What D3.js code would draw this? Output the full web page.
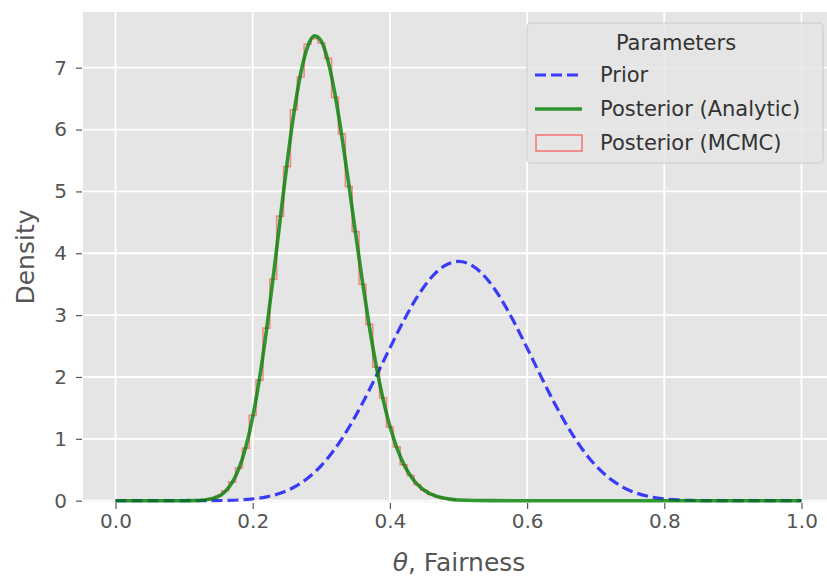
<!DOCTYPE html>
<html>
<head>
<meta charset="utf-8">
<script src="https://cdn.jsdelivr.net/npm/d3@7"></script>
<style>
  html, body { margin: 0; padding: 0; background: #ffffff; }
  svg { display: block; }
  text { font-family: "DejaVu Sans", sans-serif; }
</style>
</head>
<body>
<svg id="chart" width="827" height="578"></svg>
<script>
// Prior density, sampled on theta = 0.00, 0.02, ..., 1.00
const priorTheta = [0.00,0.02,0.04,0.06,0.08,0.10,0.12,0.14,0.16,0.18,0.20,0.22,0.24,0.26,0.28,0.30,0.32,0.34,0.36,0.38,0.40,0.42,0.44,0.46,0.48,0.50,0.52,0.54,0.56,0.58,0.60,0.62,0.64,0.66,0.68,0.70,0.72,0.74,0.76,0.78,0.80,0.82,0.84,0.86,0.88,0.90,0.92,0.94,0.96,0.98,1.00];
const priorDensity = [0,0,0,0,0,0.00005,0.0003,0.00125,0.0042,0.0118,0.0286,0.0617,0.1206,0.217,0.363,0.568,0.840,1.179,1.576,2.014,2.469,2.908,3.298,3.604,3.800,3.868,3.800,3.604,3.298,2.908,2.469,2.014,1.576,1.179,0.840,0.568,0.363,0.217,0.1206,0.0617,0.0286,0.0118,0.0042,0.00125,0.0003,0.00005,0,0,0,0,0];

// Analytic posterior density
const postTheta = [0.00,0.05,0.10,0.11,0.12,0.13,0.14,0.15,0.16,0.17,0.18,0.19,0.20,0.21,0.22,0.23,0.24,0.25,0.26,0.27,0.28,0.29,0.30,0.31,0.32,0.33,0.34,0.35,0.36,0.37,0.38,0.39,0.40,0.41,0.42,0.43,0.44,0.45,0.46,0.47,0.48,0.49,0.50,0.55,0.60,0.70,0.80,0.90,1.00];
const postDensity = [0,0,0.0003,0.0011,0.0038,0.0115,0.0302,0.0707,0.150,0.291,0.521,0.867,1.351,1.981,2.748,3.619,4.542,5.448,6.260,6.909,7.338,7.514,7.428,7.099,6.568,5.888,5.118,4.318,3.539,2.818,2.182,1.643,1.203,0.858,0.595,0.402,0.264,0.169,0.105,0.064,0.038,0.022,0.012,0.0005,0,0,0,0,0];

// MCMC sample histogram: bin edges and normalised heights
const mcmcEdges = [0.125,0.135,0.145,0.155,0.165,0.175,0.185,0.195,0.205,0.215,0.225,0.235,0.245,0.255,0.265,0.275,0.285,0.295,0.305,0.315,0.325,0.335,0.345,0.355,0.365,0.375,0.385,0.395,0.405,0.415,0.425,0.435,0.445,0.455,0.465,0.475,0.485,0.495];
const mcmcHeights = [0.012,0.030,0.075,0.160,0.300,0.530,0.850,1.380,1.950,2.790,3.580,4.600,5.400,6.320,6.850,7.380,7.470,7.400,7.150,6.520,5.930,5.080,4.350,3.500,2.850,2.160,1.660,1.190,0.870,0.580,0.410,0.260,0.170,0.100,0.065,0.035,0.020];

const xTicks = [0.0, 0.2, 0.4, 0.6, 0.8, 1.0];
const yTicks = [0, 1, 2, 3, 4, 5, 6, 7];
const legendLabels = ["Prior", "Posterior (Analytic)", "Posterior (MCMC)"];

const svg = d3.select("#chart");
const plot = { left: 83, right: 827, top: 12, bottom: 502 };

const x = d3.scaleLinear().domain([0, 1]).range([115.5, 801.5]);
const y = d3.scaleLinear().domain([0, 7]).range([500.7, 67.7]);

svg.append("defs").append("clipPath").attr("id", "plotClip")
  .append("rect")
  .attr("x", plot.left).attr("y", plot.top)
  .attr("width", plot.right - plot.left).attr("height", plot.bottom - plot.top + 2);

// panel background
svg.append("rect")
  .attr("x", plot.left).attr("y", plot.top)
  .attr("width", plot.right - plot.left).attr("height", plot.bottom - plot.top)
  .attr("fill", "#e5e5e5");

// grid
const grid = svg.append("g");
grid.selectAll(".gx").data(xTicks).join("line")
  .attr("x1", d => x(d)).attr("x2", d => x(d))
  .attr("y1", plot.top).attr("y2", plot.bottom)
  .attr("stroke", "#ffffff").attr("stroke-width", 1.8);
grid.selectAll(".gy").data(yTicks).join("line")
  .attr("x1", plot.left).attr("x2", plot.right)
  .attr("y1", d => y(d)).attr("y2", d => y(d))
  .attr("stroke", "#ffffff").attr("stroke-width", 1.8);

// axes
const xAxis = d3.axisBottom(x).tickValues(xTicks).tickFormat(d3.format(".1f"))
  .tickSizeInner(6).tickSizeOuter(0).tickPadding(5);
const gx = svg.append("g").attr("transform", `translate(0,${plot.bottom + 1})`).call(xAxis);
const yAxis = d3.axisLeft(y).tickValues(yTicks).tickFormat(d3.format("d"))
  .tickSizeInner(6).tickSizeOuter(0).tickPadding(9);
const gy = svg.append("g").attr("transform", `translate(${plot.left - 1},0)`).call(yAxis);
[gx, gy].forEach(g => {
  g.select(".domain").remove();
  g.selectAll(".tick line").attr("stroke", "#555555").attr("stroke-width", 1.2);
  g.selectAll(".tick text").attr("fill", "#555555")
    .style("font-family", "'DejaVu Sans', sans-serif").style("font-size", "20px");
});

const marks = svg.append("g").attr("clip-path", "url(#plotClip)");

// MCMC histogram outline (step)
const stepPts = [[mcmcEdges[0], 0]];
mcmcHeights.forEach((h, i) => {
  stepPts.push([mcmcEdges[i], h]);
  stepPts.push([mcmcEdges[i + 1], h]);
});
stepPts.push([mcmcEdges[mcmcEdges.length - 1], 0]);
marks.append("path")
  .attr("d", d3.line().x(d => x(d[0])).y(d => y(d[1]))(stepPts))
  .attr("fill", "none").attr("stroke", "#ff0000").attr("stroke-opacity", 0.4)
  .attr("stroke-width", 1.6);

// prior
const line = d3.line().curve(d3.curveMonotoneX);
marks.append("path")
  .attr("d", line(priorTheta.map((t, i) => [x(t), y(priorDensity[i])])))
  .attr("fill", "none").attr("stroke", "#0000ff").attr("stroke-opacity", 0.75)
  .attr("stroke-width", 3.2).attr("stroke-dasharray", "11,5");

// analytic posterior
marks.append("path")
  .attr("d", line(postTheta.map((t, i) => [x(t), y(postDensity[i])])))
  .attr("fill", "none").attr("stroke", "#008000").attr("stroke-opacity", 0.8)
  .attr("stroke-width", 3.6);

// axis labels
svg.append("text")
  .attr("x", 459).attr("y", 571)
  .attr("text-anchor", "middle").attr("fill", "#555555")
  .style("font-size", "25px")
  .call(t => {
    t.append("tspan").attr("font-style", "italic").text("θ");
    t.append("tspan").text(", Fairness");
  });
svg.append("text")
  .attr("transform", "translate(34,257) rotate(-90)")
  .attr("text-anchor", "middle").attr("fill", "#555555")
  .style("font-size", "25px")
  .text("Density");

// legend
const lg = svg.append("g");
lg.append("rect")
  .attr("x", 527).attr("y", 23).attr("width", 296).attr("height", 140)
  .attr("rx", 4)
  .attr("fill", "#e5e5e5").attr("fill-opacity", 0.8)
  .attr("stroke", "#cccccc").attr("stroke-width", 1.2);
lg.append("text")
  .attr("x", 676).attr("y", 43).attr("dy", "0.35em")
  .attr("text-anchor", "middle").attr("fill", "#333333")
  .style("font-size", "21px").text("Parameters");
const rowY = [75, 109, 143];
lg.append("line")
  .attr("x1", 535).attr("x2", 582).attr("y1", rowY[0]).attr("y2", rowY[0])
  .attr("stroke", "#0000ff").attr("stroke-opacity", 0.75)
  .attr("stroke-width", 3.2).attr("stroke-dasharray", "11,5");
lg.append("line")
  .attr("x1", 535).attr("x2", 582).attr("y1", rowY[1]).attr("y2", rowY[1])
  .attr("stroke", "#008000").attr("stroke-opacity", 0.8).attr("stroke-width", 3.6);
lg.append("rect")
  .attr("x", 536).attr("y", rowY[2] - 8).attr("width", 46).attr("height", 16)
  .attr("fill", "none").attr("stroke", "#ff0000").attr("stroke-opacity", 0.5)
  .attr("stroke-width", 1.5);
lg.selectAll(".lt").data(legendLabels).join("text")
  .attr("x", 600).attr("y", (d, i) => rowY[i]).attr("dy", "0.35em")
  .attr("fill", "#333333").style("font-size", "21px")
  .text(d => d);
</script>
</body>
</html>
